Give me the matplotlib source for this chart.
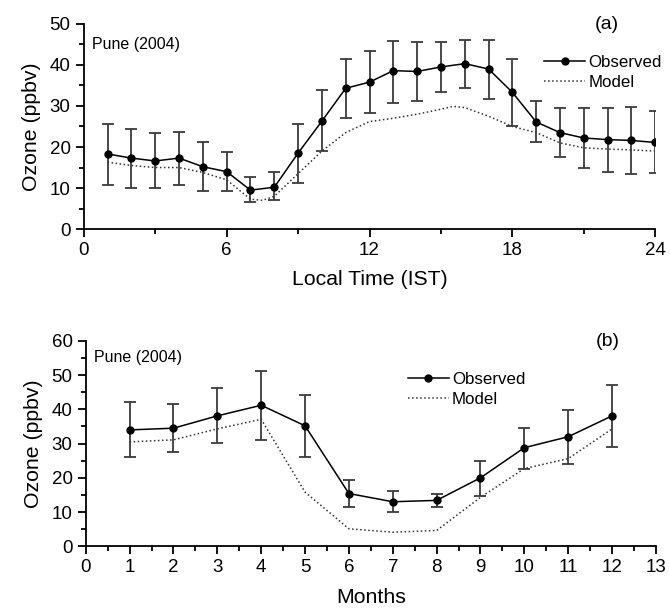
import matplotlib
matplotlib.use("Agg")
import matplotlib.pyplot as plt
from matplotlib.ticker import MultipleLocator
import numpy as np

plt.rcParams["font.family"] = ["Liberation Sans", "DejaVu Sans"]

# ── Data: (a) diurnal ─────────────────────────────────────────────────────────
hours = [1, 2, 3, 4, 5, 6, 7, 8, 9, 10, 11, 12, 13, 14, 15, 16, 17, 18, 19, 20, 21, 22, 23, 24]
obs_hour = [18.3, 17.3, 16.6, 17.3, 15.2, 14.0, 9.5, 10.2, 18.5, 26.3, 34.3, 35.8,
            38.6, 38.4, 39.5, 40.3, 39.0, 33.3, 26.1, 23.5, 22.2, 21.8, 21.6, 21.1]
obs_hour_hi = [25.6, 24.5, 23.3, 23.7, 21.2, 18.9, 12.7, 13.8, 25.7, 33.8, 41.4, 43.5,
               45.9, 45.5, 45.5, 46.1, 46.1, 41.4, 31.3, 29.4, 29.4, 29.6, 29.7, 28.7]
obs_hour_lo = [10.8, 10.0, 10.0, 10.8, 9.2, 9.2, 6.5, 7.0, 11.3, 19.0, 27.1, 28.4,
               30.8, 31.2, 33.4, 34.3, 31.8, 25.2, 21.1, 17.5, 14.9, 14.0, 13.4, 13.6]
model_hour_x = [1, 2, 3, 4, 5, 6, 7, 7.5, 8, 9, 10, 11, 12, 13, 14, 15, 15.5, 16, 17, 18,
                19, 20, 21, 22, 23, 24]
model_hour = [16.3, 15.5, 15.0, 15.0, 13.8, 12.0, 7.3, 7.0, 8.0, 13.5, 19.0, 23.5, 26.2,
              27.0, 28.0, 29.2, 29.9, 29.6, 27.5, 25.0, 23.5, 21.0, 19.8, 19.5, 19.3, 19.0]

# ── Data: (b) monthly ─────────────────────────────────────────────────────────
months = [1, 2, 3, 4, 5, 6, 7, 8, 9, 10, 11, 12]
obs_month = [34.0, 34.5, 38.1, 41.2, 35.2, 15.4, 13.0, 13.4, 20.0, 28.8, 32.0, 38.1]
obs_month_hi = [42.1, 41.5, 46.1, 51.1, 44.1, 19.3, 16.0, 15.2, 24.9, 34.6, 39.9, 47.1]
obs_month_lo = [26.0, 27.5, 30.1, 31.1, 26.2, 11.4, 10.0, 11.4, 14.8, 22.7, 23.9, 29.1]
model_month = [30.5, 31.1, 34.3, 37.1, 15.8, 5.1, 4.1, 4.6, 14.3, 22.7, 25.6, 34.3]


def style_axes(ax):
    for side in ("top", "right"):
        ax.spines[side].set_visible(False)
    for side in ("left", "bottom"):
        ax.spines[side].set_linewidth(1.3)
    ax.tick_params(which="major", direction="out", length=6, width=1.3, labelsize=13.5)
    ax.tick_params(which="minor", direction="out", length=3.5, width=1.3)


def draw_panel(ax, x, y, hi, lo, mx, my, label, legend_pos, pune_y):
    y = np.array(y)
    yerr = [y - np.array(lo), np.array(hi) - y]
    ax.plot(mx, my, linestyle=":", color="#333333", linewidth=1.1, label="Model", zorder=2)
    ax.errorbar(x, y, yerr=yerr, fmt="none", ecolor="#3a3a3a", elinewidth=1.3,
                capsize=4, capthick=1.3, zorder=3)
    ax.plot(x, y, "-o", color="black", linewidth=1.1, markersize=5, label="Observed", zorder=4)
    handles, labels = ax.get_legend_handles_labels()
    ax.legend(handles[::-1], labels[::-1], loc="upper left", bbox_to_anchor=legend_pos,
              frameon=False, fontsize=12.2, handlelength=2.4, handletextpad=0.2,
              labelspacing=0.3, borderpad=0, borderaxespad=0)
    ax.text(0.015, pune_y, "Pune (2004)", transform=ax.transAxes, fontsize=11.5, va="center")
    ax.text(0.915, 0.995, label, transform=ax.transAxes, fontsize=14, va="center", ha="center")
    ax.set_ylabel("Ozone (ppbv)", fontsize=15.3, labelpad=6)
    style_axes(ax)


fig = plt.figure(figsize=(6.7, 6.11), dpi=100)

ax1 = fig.add_axes([0.125, 0.625, 0.853, 0.336])
draw_panel(ax1, hours, obs_hour, obs_hour_hi, obs_hour_lo, model_hour_x, model_hour,
           "(a)", (0.806, 0.85), 0.897)
ax1.set_xlim(0, 24)
ax1.set_ylim(0, 50)
ax1.xaxis.set_major_locator(MultipleLocator(6))
ax1.xaxis.set_minor_locator(MultipleLocator(3))
ax1.yaxis.set_major_locator(MultipleLocator(10))
ax1.yaxis.set_minor_locator(MultipleLocator(5))
ax1.set_xlabel("Local Time (IST)", fontsize=15.3, labelpad=8)

ax2 = fig.add_axes([0.128, 0.106, 0.851, 0.336])
draw_panel(ax2, months, obs_month, obs_month_hi, obs_month_lo, months, model_month,
           "(b)", (0.565, 0.85), 0.917)
ax2.set_xlim(0, 13)
ax2.set_ylim(0, 60)
ax2.xaxis.set_major_locator(MultipleLocator(1))
ax2.xaxis.set_minor_locator(MultipleLocator(0.5))
ax2.yaxis.set_major_locator(MultipleLocator(10))
ax2.yaxis.set_minor_locator(MultipleLocator(5))
ax2.set_xlabel("Months", fontsize=15.3, labelpad=8)

fig.savefig("out.png", dpi=100)
plt.close(fig)
